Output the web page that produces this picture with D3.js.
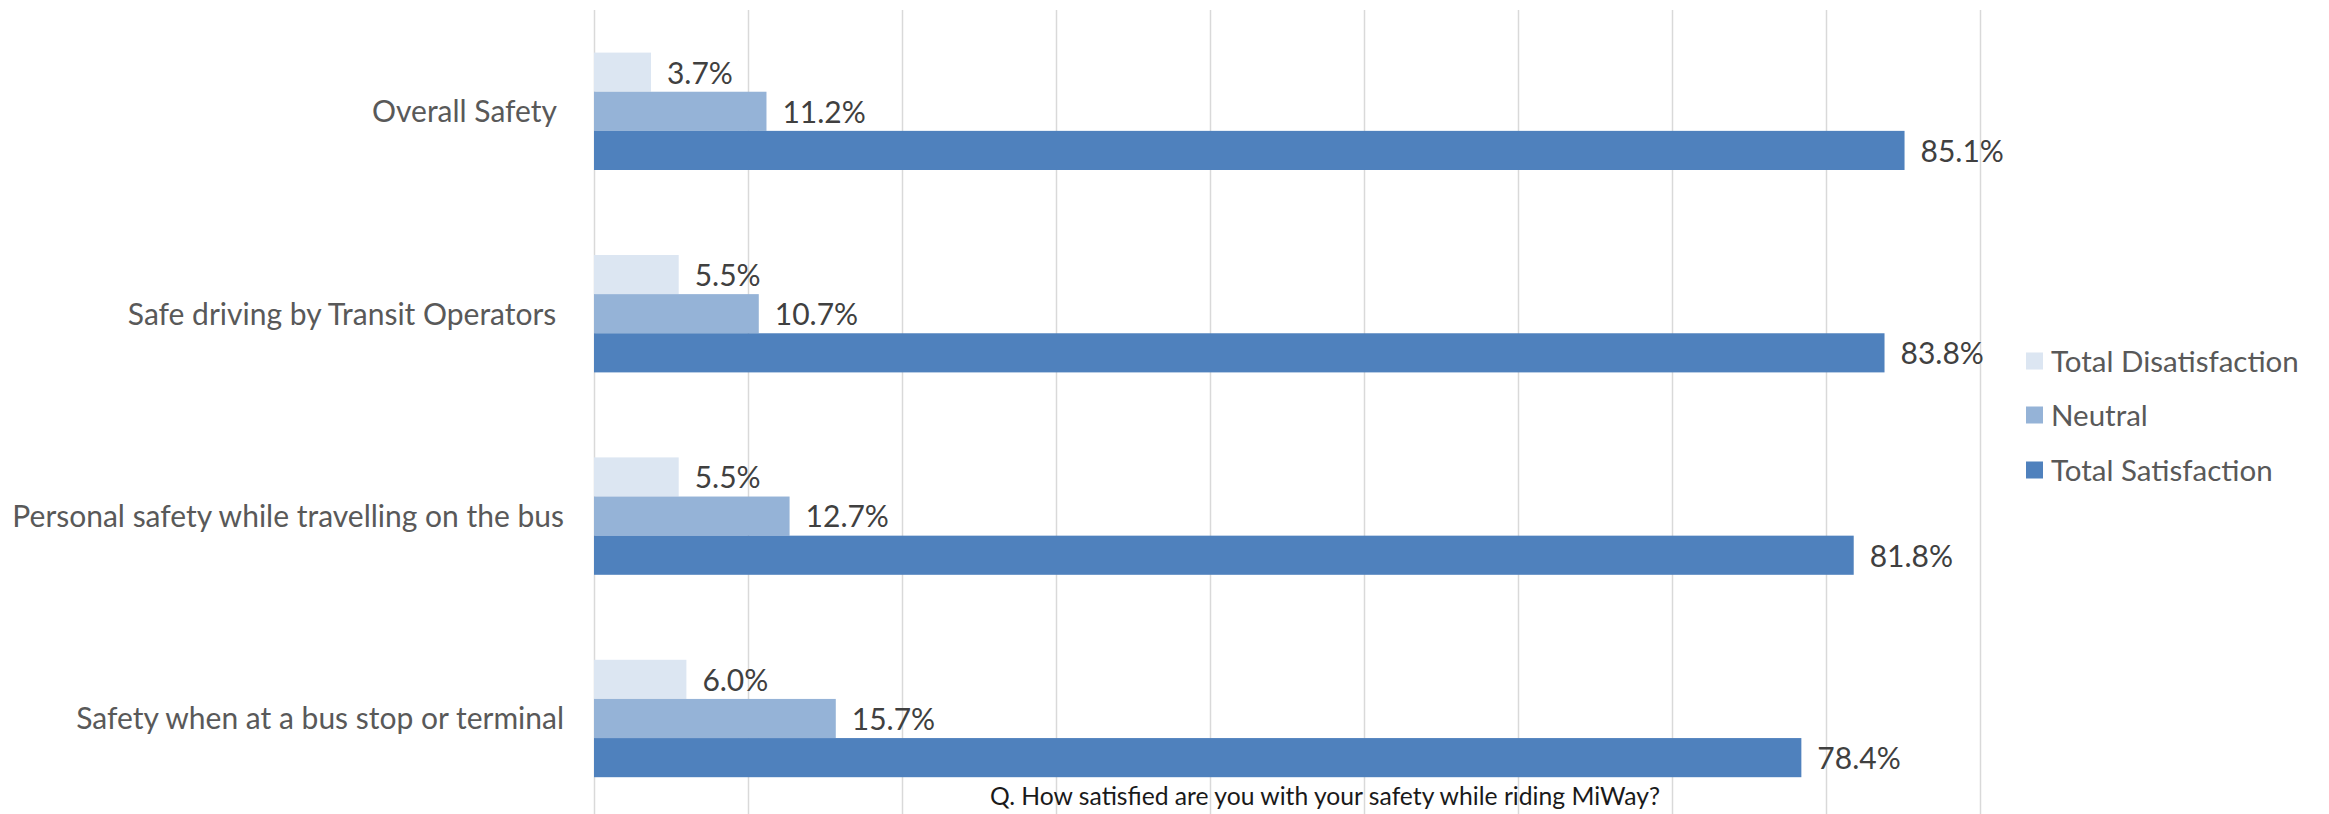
<!DOCTYPE html>
<html>
<head>
<meta charset="utf-8">
<script src="https://cdn.jsdelivr.net/npm/d3@7"></script>
<style>
  html, body { margin: 0; padding: 0; background: #fff; }
  svg { display: block; }
  text { font-family: Lato, "Open Sans", sans-serif; }
</style>
</head>
<body>
<svg id="chart" width="2329" height="814"></svg>
<script>
// ---- data ----
const categories = [
  "Overall Safety ",
  "Safe driving by Transit Operators ",
  "Personal safety while travelling on the bus",
  "Safety when at a bus stop or terminal"
];
const seriesNames = ["Total Disatisfaction", "Neutral", "Total Satisfaction"];
const disatisfaction = [3.7, 5.5, 5.5, 6.0];
const neutral = [11.2, 10.7, 12.7, 15.7];
const satisfaction = [85.1, 83.8, 81.8, 78.4];
const xTicks = [0, 10, 20, 30, 40, 50, 60, 70, 80, 90];
const footerText = "Q. How satisfied are you with your safety while riding MiWay?";

// ---- build rows ----
const seriesValues = [disatisfaction, neutral, satisfaction];
const colors = ["#DCE6F2", "#95B3D7", "#4F81BD"];
const rows = categories.map((c, i) => ({
  category: c,
  values: seriesNames.map((s, j) => ({ series: s, value: seriesValues[j][i], color: colors[j] }))
}));

const W = 2329, H = 814;
const svg = d3.select("#chart");
svg.append("rect").attr("width", W).attr("height", H).attr("fill", "#fff");

const x = d3.scaleLinear().domain([0, 90]).range([594, 1980]);
const y = d3.scaleBand().domain(categories).range([10.1, 819.7]).paddingInner(0.42).paddingOuter(0.21);
const ySub = d3.scaleBand().domain(seriesNames).range([0, y.bandwidth()]);

// gridlines
const grid = svg.append("g").attr("transform", "translate(0,10)")
  .call(d3.axisBottom(x).tickValues(xTicks).tickSize(H).tickFormat(""));
grid.select(".domain").remove();
grid.selectAll(".tick line").attr("stroke", "#D9D9D9").attr("stroke-width", 1.5);

// bars
const groups = svg.append("g").selectAll("g").data(rows).join("g")
  .attr("transform", d => `translate(0,${y(d.category)})`);

groups.selectAll("rect").data(d => d.values).join("rect")
  .attr("x", x(0))
  .attr("y", d => ySub(d.series))
  .attr("width", d => x(d.value) - x(0))
  .attr("height", ySub.bandwidth())
  .attr("fill", d => d.color);

groups.selectAll("text").data(d => d.values).join("text")
  .attr("x", d => x(d.value) + 16)
  .attr("y", d => ySub(d.series) + ySub.bandwidth() / 2)
  .attr("dy", "0.38em")
  .attr("fill", "#404040")
  .style("font-size", "30px")
  .text(d => d.value.toFixed(1) + "%");

// category axis
const yAxis = svg.append("g").attr("transform", `translate(${x(0)},0)`)
  .call(d3.axisLeft(y).tickSize(0).tickPadding(30));
yAxis.select(".domain").remove();
yAxis.selectAll("text")
  .attr("fill", "#595959")
  .style("font-size", "30px")
  .style("font-family", "Lato, 'Open Sans', sans-serif")
  .style("white-space", "pre")
  .attr("dy", "0.36em");

// legend
const legendY = [361, 415, 470];
const legend = svg.append("g").selectAll("g").data(seriesNames).join("g")
  .attr("transform", (d, i) => `translate(2026,${legendY[i]})`);
legend.append("rect").attr("x", 0).attr("y", -8.5).attr("width", 17).attr("height", 17)
  .attr("fill", (d, i) => colors[i]);
legend.append("text").attr("x", 25).attr("dy", "0.36em")
  .attr("fill", "#595959").style("font-size", "29.5px").text(d => d);

// footer / axis title
svg.append("text")
  .attr("x", 1325).attr("y", 805)
  .attr("text-anchor", "middle")
  .attr("fill", "#1a1a1a")
  .style("font-size", "24.7px")
  .text(footerText);
</script>
</body>
</html>
